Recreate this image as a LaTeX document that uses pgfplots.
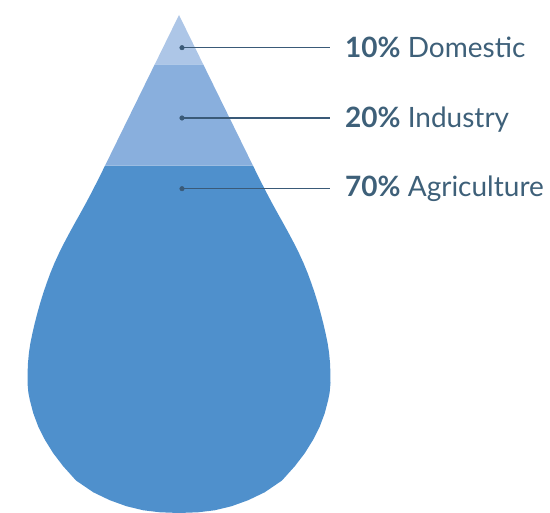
\documentclass[border=0pt]{standalone}
\usepackage{pgfplots}
\pgfplotsset{compat=1.18}
\usepackage{fontspec}
\setmainfont{Lato}
\definecolor{cTop}{HTML}{ADC6E7}
\definecolor{cMid}{HTML}{89AFDD}
\definecolor{cBot}{HTML}{4F90CC}
\definecolor{cLine}{HTML}{3A5A78}
\definecolor{cText}{HTML}{3E6079}
\pgfplotstableread{
w h
74 347.3
77.6 340
82.6 330
87.7 320
93.0 310
98.5 300
104.1 290
109.6 280
114.9 270
119.9 260
124.5 250
128.6 240
132.3 230
135.7 220
138.8 210
141.6 200
144.2 190
146.5 180
148.6 170
150.1 160
151.0 150
151.45 140
151.5 130
150.6 120
149.2 113
145.7 99.7
140.7 86.3
134 73
125.7 59.7
116 47
103 32.5
85.7 20.7
69 12.7
52.3 6.7
35.7 2.7
19 0.7
0 0
}\halfprofile
\begin{document}
\begin{tikzpicture}
\begin{axis}[
  x=1pt, y=1pt,
  xmin=-179, xmax=371, ymin=0, ymax=513,
  hide axis, clip=false,
  scale only axis,
]
\path (rel axis cs:0,0) rectangle (rel axis cs:1,1);
% Agriculture (bulb)
\addplot[fill=cBot, draw=none] coordinates {
(-74,347.3) (-77.6,340) (-82.6,330) (-87.7,320) (-93.0,310) (-98.5,300)
(-104.1,290) (-109.6,280) (-114.9,270) (-119.9,260) (-124.5,250) (-128.6,240)
(-132.3,230) (-135.7,220) (-138.8,210) (-141.6,200) (-144.2,190) (-146.5,180)
(-148.6,170) (-150.1,160) (-151.0,150) (-151.45,140) (-151.5,130) (-150.6,120)
(-149.2,113) (-145.7,99.7) (-140.7,86.3) (-134,73) (-125.7,59.7) (-116,47)
(-103,32.5) (-85.7,20.7) (-69,12.7) (-52.3,6.7) (-35.7,2.7) (-19,0.7) (0,0)
(19,0.7) (35.7,2.7) (52.3,6.7) (69,12.7) (85.7,20.7) (103,32.5)
(116,47) (125.7,59.7) (134,73) (140.7,86.3) (145.7,99.7) (149.2,113)
(150.6,120) (151.5,130) (151.45,140) (151.0,150) (150.1,160) (148.6,170)
(146.5,180) (144.2,190) (141.6,200) (138.8,210) (135.7,220) (132.3,230)
(128.6,240) (124.5,250) (119.9,260) (114.9,270) (109.6,280) (104.1,290)
(98.5,300) (93.0,310) (87.7,320) (82.6,330) (77.6,340) (74,347.3)
} -- cycle;
% Industry
\addplot[fill=cMid, draw=none] coordinates {
(-74,347.3) (-24.3,448.5) (24.3,448.5) (74,347.3)
} -- cycle;
% Domestic
\addplot[fill=cTop, draw=none] coordinates {
(-24.3,448.5) (0,498) (24.3,448.5)
} -- cycle;
% leader lines
\addplot[cLine, line width=1.1pt] coordinates {(3,465.3) (151,465.3)};
\addplot[cLine, line width=1.1pt] coordinates {(3,395) (151,395)};
\addplot[cLine, line width=1.1pt] coordinates {(3,324.3) (151,324.3)};
\addplot[only marks, mark=*, mark size=2.3pt, color=cLine] coordinates {(3,465.3) (3,395) (3,324.3)};
% labels
\node[anchor=base west, inner sep=0pt, text=cText, font=\fontsize{28}{32}\selectfont]
  at (axis cs:166,455) {\textbf{10\%} Domestic};
\node[anchor=base west, inner sep=0pt, text=cText, font=\fontsize{28}{32}\selectfont]
  at (axis cs:166,385) {\textbf{20\%} Industry};
\node[anchor=base west, inner sep=0pt, text=cText, font=\fontsize{28}{32}\selectfont]
  at (axis cs:166,316) {\textbf{70\%} Agriculture};
\end{axis}
\end{tikzpicture}
\end{document}
